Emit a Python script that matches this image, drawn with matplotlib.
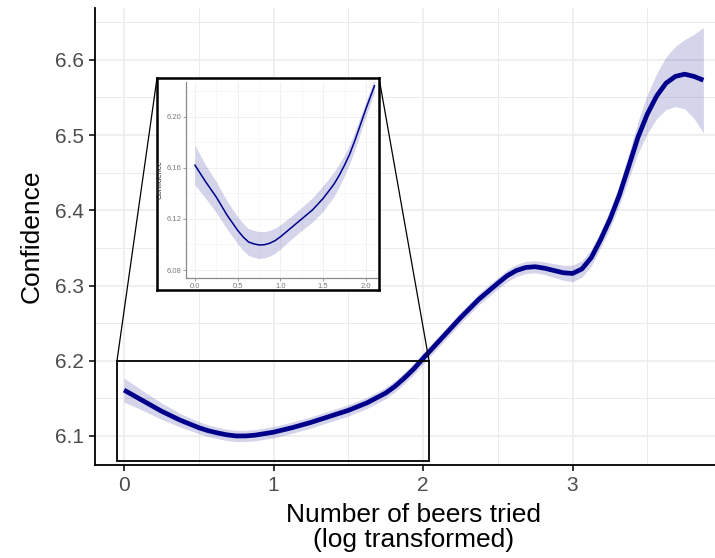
import matplotlib
matplotlib.use('Agg')
from matplotlib import pyplot as plt
from matplotlib.patches import Rectangle, ConnectionPatch
from matplotlib.ticker import MultipleLocator

plt.rcParams['font.family'] = ['Liberation Sans', 'DejaVu Sans']

# smoothed fit, full range
x = [0, 0.125, 0.25, 0.375, 0.5, 0.5625, 0.625, 0.6875, 0.75, 0.8125, 0.875,
     0.9375, 1.0, 1.125, 1.25, 1.375, 1.5, 1.625, 1.75, 1.8125, 1.875, 1.9375,
     2.0, 2.125, 2.25, 2.375, 2.5, 2.5625, 2.625, 2.6875, 2.75, 2.8125, 2.875,
     2.9375, 3.0, 3.0625, 3.125, 3.1875, 3.25, 3.3125, 3.375, 3.4375, 3.5,
     3.5625, 3.625, 3.6875, 3.75, 3.8125, 3.875]
conf = [6.161, 6.147, 6.133, 6.121, 6.111, 6.107, 6.104, 6.1015, 6.100, 6.100,
        6.101, 6.103, 6.105, 6.111, 6.118, 6.126, 6.134, 6.144, 6.157, 6.166,
        6.177, 6.189, 6.203, 6.230, 6.257, 6.282, 6.303, 6.313, 6.320, 6.324,
        6.325, 6.323, 6.320, 6.317, 6.316, 6.322, 6.337, 6.361, 6.388, 6.420,
        6.458, 6.497, 6.528, 6.552, 6.569, 6.578, 6.581, 6.578, 6.573]
se = [0.016, 0.013, 0.011, 0.009, 0.008, 0.0078, 0.0075, 0.0075, 0.0075,
      0.0075, 0.0075, 0.0075, 0.0075, 0.0075, 0.0075, 0.0075, 0.0075, 0.0075,
      0.0075, 0.0075, 0.0075, 0.0075, 0.0075, 0.0075, 0.0075, 0.0075, 0.0075,
      0.0078, 0.008, 0.008, 0.008, 0.0085, 0.009, 0.010, 0.011, 0.011, 0.011,
      0.011, 0.012, 0.014, 0.017, 0.021, 0.026, 0.030, 0.035, 0.040, 0.046,
      0.056, 0.07]

# zoomed fit, 0 - 2.1
x_in = [0, 0.125, 0.25, 0.375, 0.5, 0.5625, 0.625, 0.6875, 0.75, 0.8125,
        0.875, 0.9375, 1.0, 1.0625, 1.125, 1.25, 1.375, 1.5, 1.625, 1.6875,
        1.75, 1.8125, 1.875, 1.9375, 2.0, 2.05, 2.1]
conf_in = [6.162, 6.149, 6.137, 6.123, 6.111, 6.106, 6.102, 6.1005, 6.0996,
           6.0998, 6.101, 6.103, 6.106, 6.1095, 6.113, 6.120, 6.127, 6.136,
           6.147, 6.154, 6.162, 6.171, 6.182, 6.194, 6.206, 6.215, 6.224]
se_in = [0.0155, 0.013, 0.012, 0.011, 0.0105, 0.0105, 0.0105, 0.0105, 0.0105,
         0.0103, 0.010, 0.0098, 0.0095, 0.0093, 0.009, 0.009, 0.0095, 0.010,
         0.0095, 0.009, 0.008, 0.0075, 0.007, 0.0065, 0.006, 0.0055, 0.005]

navy = '#00008B'
grid = '#ebebeb'

fig = plt.figure(figsize=(7.15, 5.58), dpi=100)
ax = fig.add_axes([0.1329, 0.1667, 0.891, 0.819])

lo = [c - s for c, s in zip(conf, se)]
hi = [c + s for c, s in zip(conf, se)]
ax.fill_between(x, lo, hi, color=navy, alpha=0.17, lw=0)
ax.plot(x, conf, color=navy, lw=3.4, solid_capstyle='butt',
        solid_joinstyle='round')

ax.set_xlim(-0.194, 4.067)
ax.set_ylim(6.0614, 6.669)
ax.xaxis.set_major_locator(MultipleLocator(1))
ax.xaxis.set_minor_locator(MultipleLocator(0.5))
ax.yaxis.set_major_locator(MultipleLocator(0.1))
ax.yaxis.set_minor_locator(MultipleLocator(0.05))
ax.grid(which='major', color=grid, lw=1.1)
ax.grid(which='minor', color=grid, lw=0.7)
ax.set_axisbelow(True)
for s in ['top', 'right']:
    ax.spines[s].set_visible(False)
for s in ['left', 'bottom']:
    ax.spines[s].set_linewidth(1.3)
ax.tick_params(which='major', length=4, width=1.1, color='black',
               labelsize=15, labelcolor='#4d4d4d', pad=4)
ax.tick_params(which='minor', length=0)
ax.set_xlabel('Number of beers tried\n(log transformed)', fontsize=19,
              linespacing=1.05, labelpad=6)
ax.set_ylabel('Confidence', fontsize=19, labelpad=8)

# zoom box on the main panel
ax.add_patch(Rectangle((-0.047, 6.067), 2.087, 0.133, fill=False,
                       ec='black', lw=1.3, zorder=5))

# inset frame and inset panel
frame = fig.add_axes([0.2196, 0.4803, 0.3105, 0.3799])
frame.set_xticks([])
frame.set_yticks([])
for s in frame.spines.values():
    s.set_linewidth(1.8)
frame.set_zorder(10)

for xa, xb in [((-0.047, 6.2), (0, 1)), ((2.04, 6.2), (1, 1))]:
    con = ConnectionPatch(xyA=xa, coordsA=ax.transData, xyB=xb,
                          coordsB=frame.transAxes, color='black', lw=0.9)
    fig.add_artist(con)

ins = fig.add_axes([0.2601, 0.5018, 0.2671, 0.3513])
ins.set_zorder(11)
lo_in = [c - s for c, s in zip(conf_in, se_in)]
hi_in = [c + s for c, s in zip(conf_in, se_in)]
ins.fill_between(x_in, lo_in, hi_in, color=navy, alpha=0.17, lw=0)
ins.plot(x_in, conf_in, color=navy, lw=1.1, solid_joinstyle='round')
ins.set_xlim(-0.105, 2.129)
ins.set_ylim(6.0738, 6.227)
ins.set_xticks([0, 0.5, 1.0, 1.5, 2.0])
ins.set_xticklabels(['0.0', '0.5', '1.0', '1.5', '2.0'])
ins.set_yticks([6.08, 6.12, 6.16, 6.20])
ins.set_yticklabels(['6.08', '6.12', '6.16', '6.20'])
ins.xaxis.set_minor_locator(MultipleLocator(0.25))
ins.yaxis.set_minor_locator(MultipleLocator(0.02))
ins.grid(which='major', color='#f0f0f0', lw=0.7)
ins.grid(which='minor', color='#f4f4f4', lw=0.5)
ins.set_axisbelow(True)
for s in ['top', 'right']:
    ins.spines[s].set_visible(False)
for s in ['left', 'bottom']:
    ins.spines[s].set_color('#8a8a8a')
    ins.spines[s].set_linewidth(0.9)
ins.tick_params(which='major', length=2, width=0.6, color='#8a8a8a',
                labelsize=5.5, labelcolor='#7a7a7a', pad=1.5)
ins.tick_params(which='minor', length=0)
ins.set_ylabel('Confidence', fontsize=5.5, color='#333333', labelpad=2)

fig.savefig('out.png', dpi=100)
